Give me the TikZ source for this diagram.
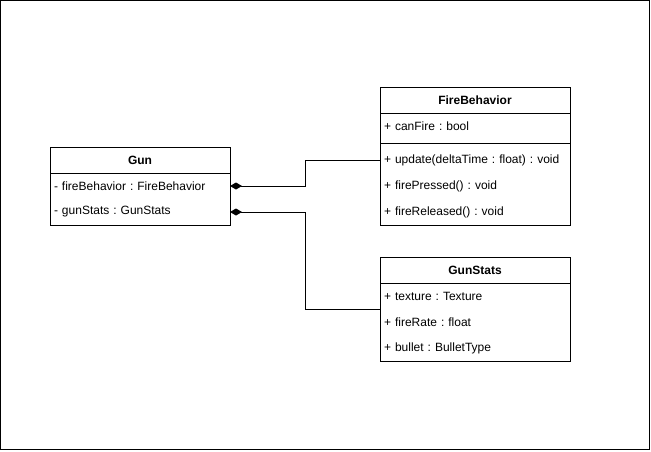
\documentclass[tikz,border=0pt]{standalone}
\usepackage{fontspec}
\setmainfont{Liberation Sans}
\usetikzlibrary{arrows.meta}
\frenchspacing
\begin{document}
\begin{tikzpicture}[x=1pt,y=-1pt,
  line width=1pt,
  every node/.style={font=\fontsize{12}{14}\selectfont, outer sep=0pt},
  classhead/.style={draw=black, fill=white, anchor=north west, minimum width=#1, minimum height=26pt, inner sep=0pt, font=\fontsize{12}{14}\selectfont\bfseries},
  classrow/.style={anchor=north west, text width=#1-8pt, minimum height=26pt, inner xsep=4pt, inner ysep=0pt, align=left},
  compose/.style={{Diamond[length=12pt,width=7pt]}-, draw=black}
]
\useasboundingbox (0,0) rectangle (651,451);
\draw[line width=1pt] (0.5,0.5) rectangle (649.5,449.5);

% Gun
\node[classhead=180pt] (gun) at (50,147) {Gun};
\node[classrow=180pt] (gunfb) at (50,173) {- fireBehavior : FireBehavior};
\node[classrow=180pt] (gungs) at (50,199) {- gunStats : GunStats};
\draw (gun.north west) rectangle (gungs.south east);

% FireBehavior
\node[classhead=190pt] (fb) at (380,87) {FireBehavior};
\node[classrow=190pt] (fbcan) at (380,113) {+ canFire : bool};
\node[classrow=190pt] (fbupd) at (380,147) {+ update(deltaTime : float) : void};
\node[classrow=190pt] (fbpress) at (380,173) {+ firePressed() : void};
\node[classrow=190pt] (fbrel) at (380,199) {+ fireReleased() : void};
\draw (fb.north west) rectangle (fbrel.south east);
\draw (380,143) -- (570,143);

% GunStats
\node[classhead=190pt] (gs) at (380,257) {GunStats};
\node[classrow=190pt] (gstex) at (380,283) {+ texture : Texture};
\node[classrow=190pt] (gsrate) at (380,309) {+ fireRate : float};
\node[classrow=190pt] (gsbul) at (380,335) {+ bullet : BulletType};
\draw (gs.north west) rectangle (gsbul.south east);
\coordinate (gsin) at (gs.north west |- gsrate.north);

% connectors
\draw[compose] (gunfb.east) -- ++(75,0) |- (fbupd.west);
\draw[compose] (gungs.east) -- ++(75,0) |- (gsin);
\end{tikzpicture}
\end{document}
